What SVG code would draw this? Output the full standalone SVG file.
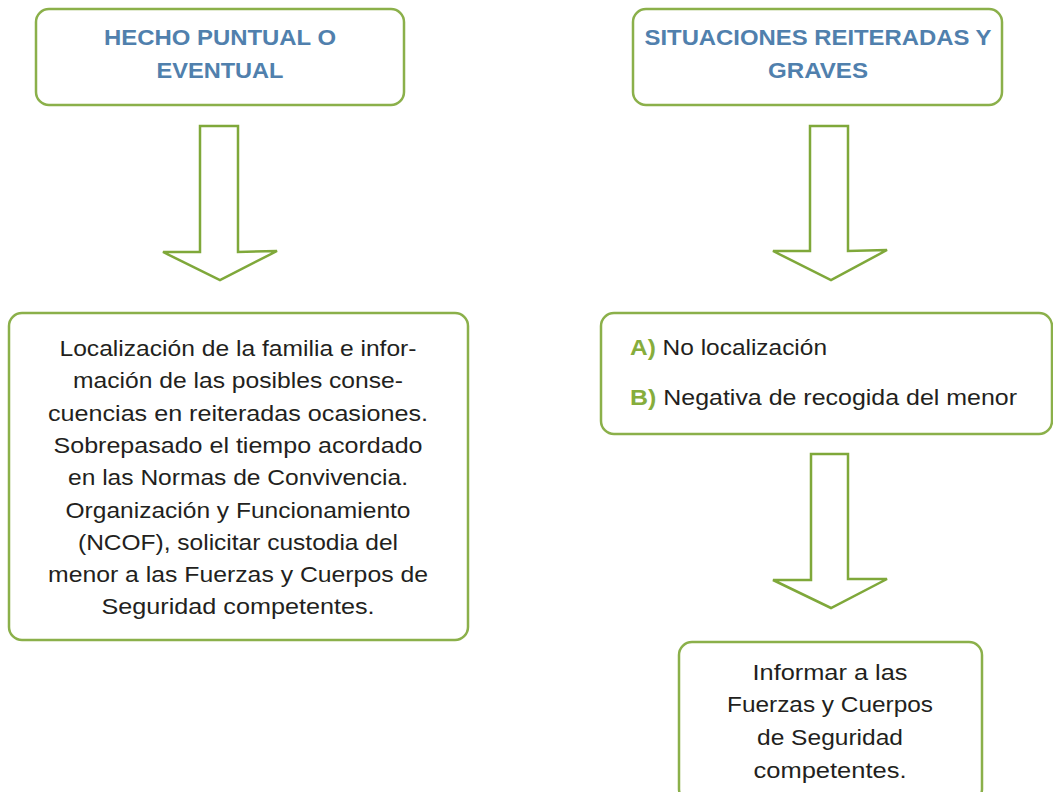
<svg xmlns="http://www.w3.org/2000/svg" width="1053" height="792" viewBox="0 0 1053 792">
<style>
.box{fill:#fff;stroke:#8bb04a;stroke-width:2.5}
.arr{fill:#fff;stroke:#7fa83a;stroke-width:2.5;stroke-linejoin:miter}
.t{font-family:"Liberation Sans",Arial,sans-serif;font-size:22px;fill:#231f20;text-anchor:middle}
.h{font-family:"Liberation Sans",Arial,sans-serif;font-size:22px;font-weight:bold;fill:#5080ad;text-anchor:middle}
.g{fill:#86ad3c;font-weight:bold}
</style>
<rect width="1053" height="792" fill="#fff"/>
<g id="connectors">
<polygon class="arr" points="200,126 238,126 238,252 277,251 220,280 163,252 200,252"/>
<polygon class="arr" points="810,126 848,126 848,251 887,250 831,280 773,251 810,251"/>
<polygon class="arr" points="811,454 848,454 848,579 887,579 831,608 773,580 811,580"/>
</g>
<g id="n1">
<rect class="box" x="36" y="9" width="368" height="96" rx="13"/>
<text class="h" x="220" y="45" textLength="232" lengthAdjust="spacingAndGlyphs">HECHO PUNTUAL O</text>
<text class="h" x="220" y="78" textLength="127" lengthAdjust="spacingAndGlyphs">EVENTUAL</text>
</g>
<g id="n2">
<rect class="box" x="633" y="9" width="369" height="96" rx="13"/>
<text class="h" x="818" y="45" textLength="347" lengthAdjust="spacingAndGlyphs">SITUACIONES REITERADAS Y</text>
<text class="h" x="818" y="78" textLength="100" lengthAdjust="spacingAndGlyphs">GRAVES</text>
</g>
<g id="n3">
<rect class="box" x="9" y="313" width="459" height="327" rx="13"/>
<text class="t" x="238" y="356" textLength="357" lengthAdjust="spacingAndGlyphs">Localización de la familia e infor-</text>
<text class="t" x="238" y="388" textLength="330" lengthAdjust="spacingAndGlyphs">mación de las posibles conse-</text>
<text class="t" x="238" y="421" textLength="380" lengthAdjust="spacingAndGlyphs">cuencias en reiteradas ocasiones.</text>
<text class="t" x="238" y="453" textLength="369" lengthAdjust="spacingAndGlyphs">Sobrepasado el tiempo acordado</text>
<text class="t" x="238" y="485" textLength="340" lengthAdjust="spacingAndGlyphs">en las Normas de Convivencia.</text>
<text class="t" x="238" y="518" textLength="345" lengthAdjust="spacingAndGlyphs">Organización y Funcionamiento</text>
<text class="t" x="238" y="550" textLength="320" lengthAdjust="spacingAndGlyphs">(NCOF), solicitar custodia del</text>
<text class="t" x="238" y="582" textLength="380" lengthAdjust="spacingAndGlyphs">menor a las Fuerzas y Cuerpos de</text>
<text class="t" x="238" y="614" textLength="273" lengthAdjust="spacingAndGlyphs">Seguridad competentes.</text>
</g>
<g id="n4">
<rect class="box" x="601" y="313" width="451" height="121" rx="13"/>
<text class="t" x="630" y="355" style="text-anchor:start" textLength="197" lengthAdjust="spacingAndGlyphs"><tspan class="g">A)</tspan> No localización</text>
<text class="t" x="630" y="405" style="text-anchor:start" textLength="387" lengthAdjust="spacingAndGlyphs"><tspan class="g">B)</tspan> Negativa de recogida del menor</text>
</g>
<g id="n5">
<rect class="box" x="679" y="642" width="303" height="160" rx="13"/>
<text class="t" x="830" y="680" textLength="155" lengthAdjust="spacingAndGlyphs">Informar a las</text>
<text class="t" x="830" y="712" textLength="206" lengthAdjust="spacingAndGlyphs">Fuerzas y Cuerpos</text>
<text class="t" x="830" y="745" textLength="146" lengthAdjust="spacingAndGlyphs">de Seguridad</text>
<text class="t" x="830" y="778" textLength="153" lengthAdjust="spacingAndGlyphs">competentes.</text>
</g>
</svg>
